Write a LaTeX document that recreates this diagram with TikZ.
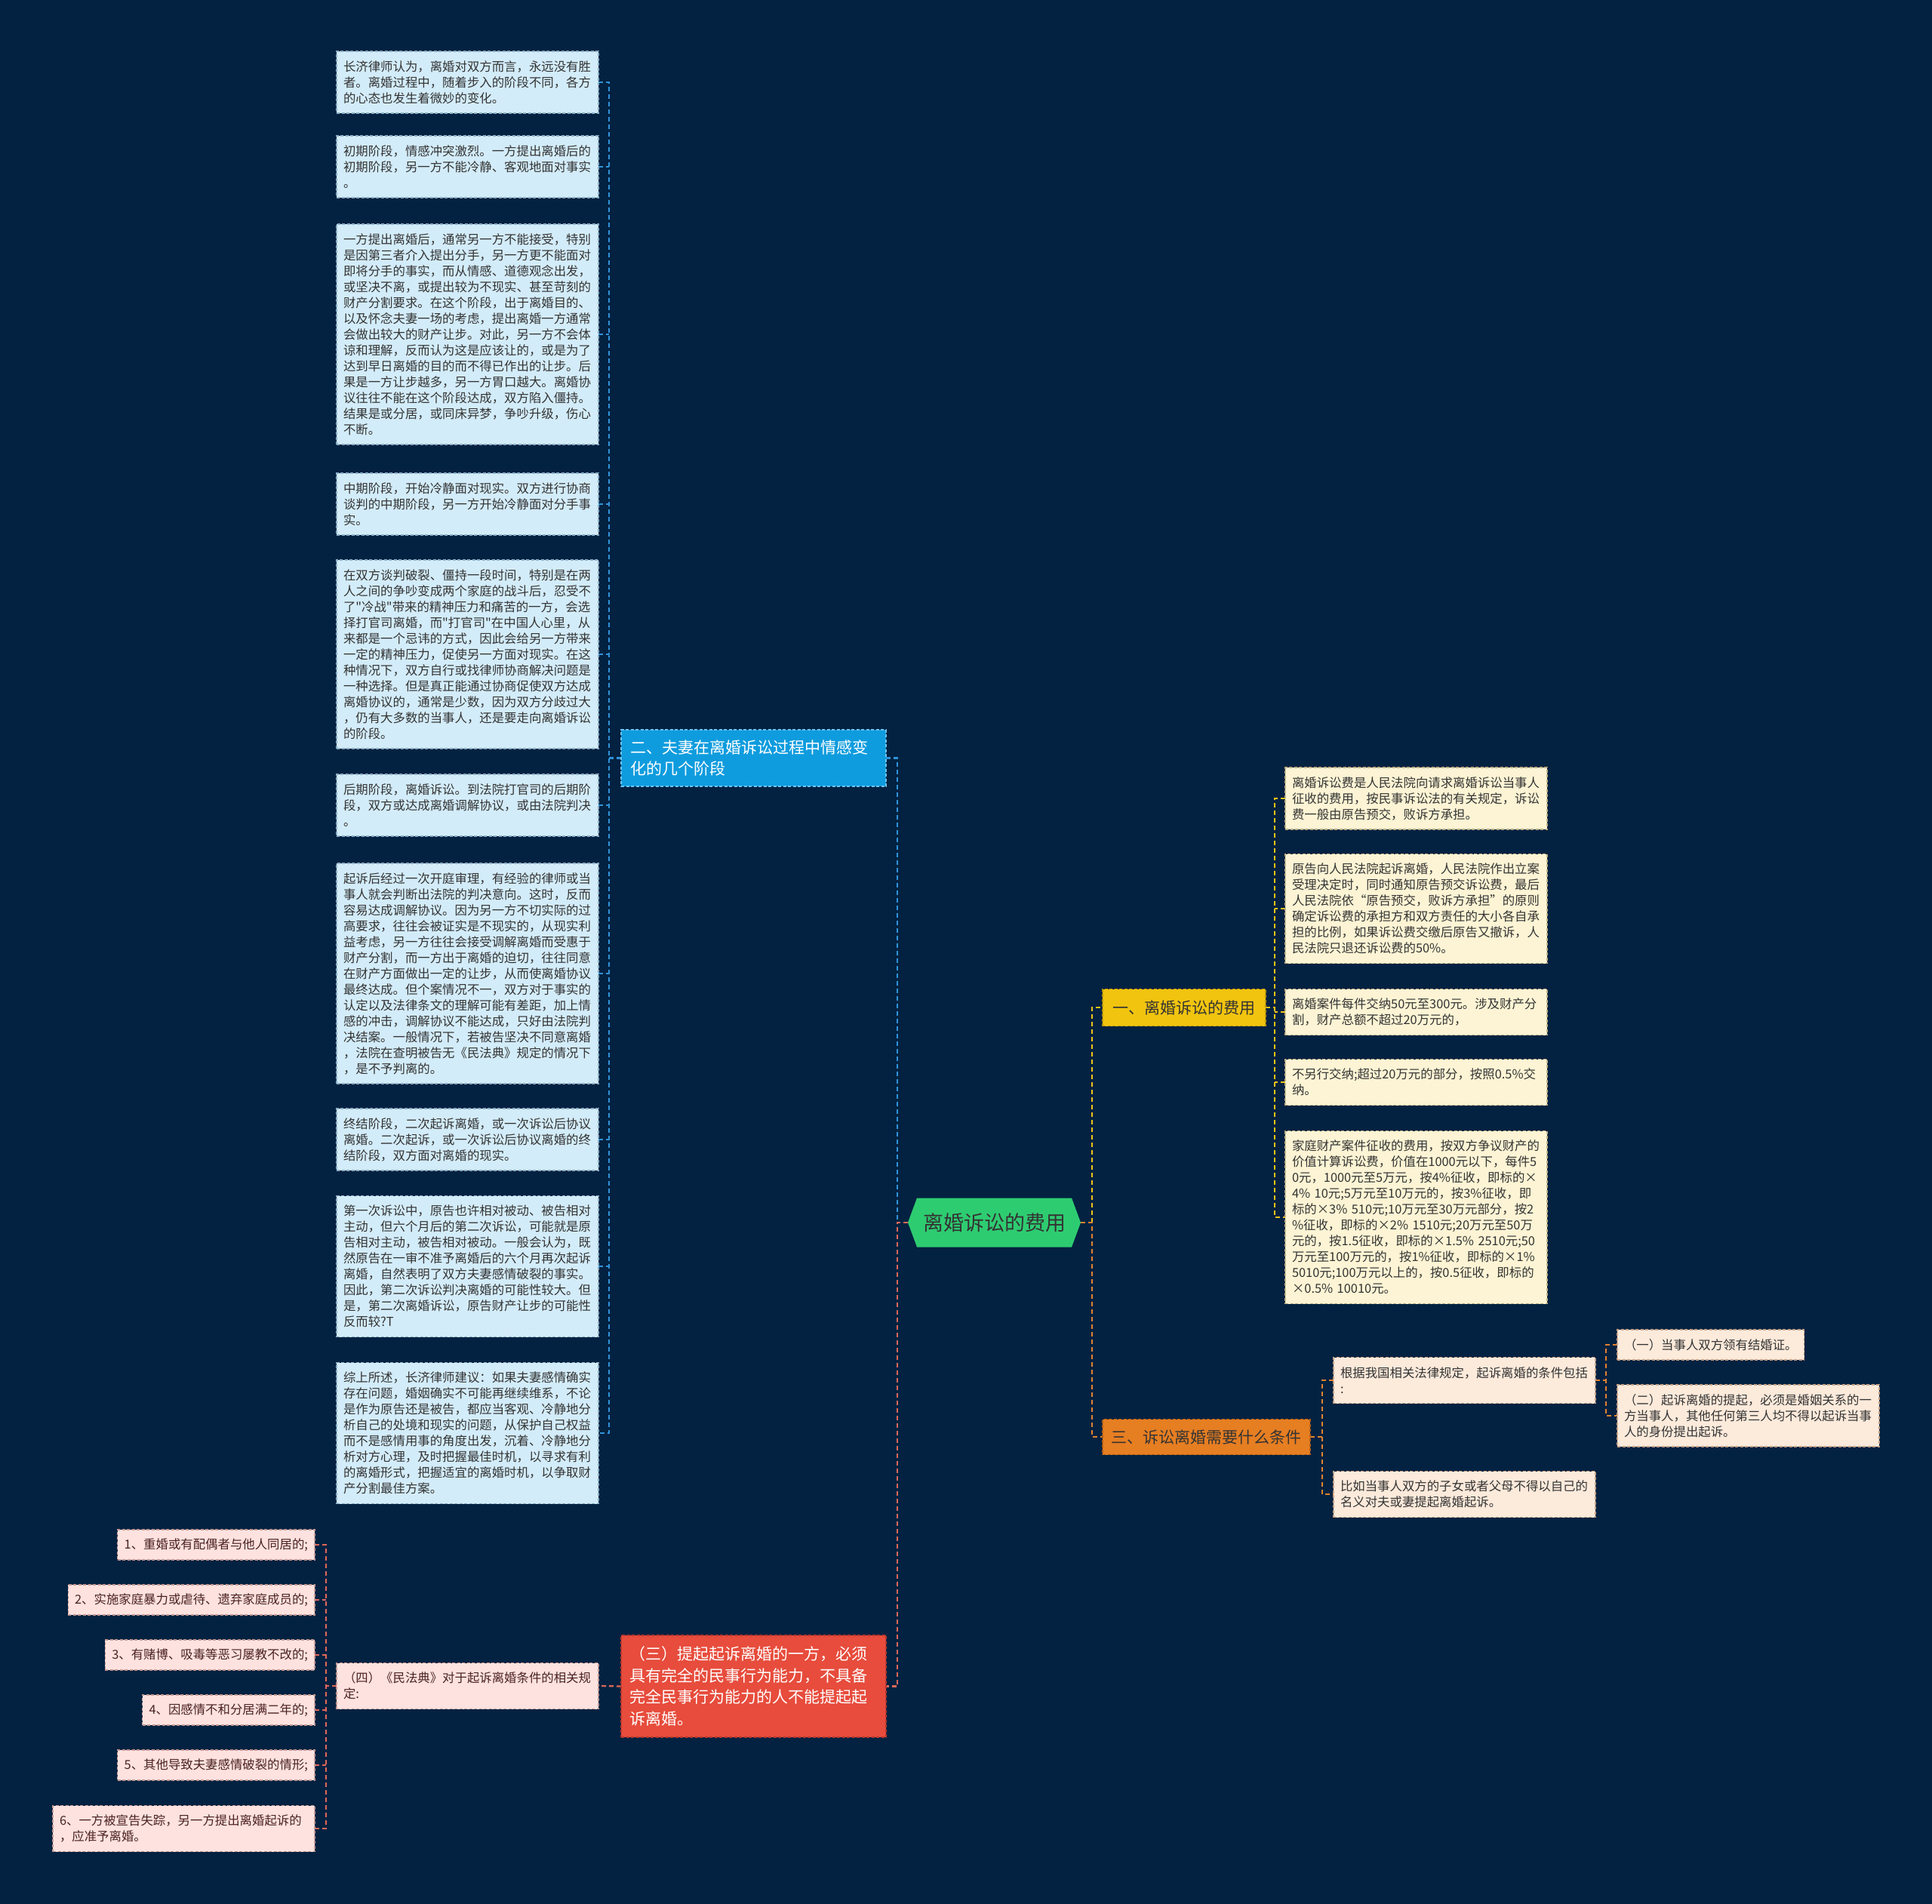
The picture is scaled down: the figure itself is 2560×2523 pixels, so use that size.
\documentclass[tikz,border=0pt]{standalone}
\usepackage{fontspec}
\setmainfont{Noto Sans CJK SC}[Ligatures=TeXOff]
\pgfdeclarelayer{page}
\pgfdeclarelayer{bg}
\pgfsetlayers{page,bg,main}
\definecolor{bgc}{HTML}{032241}
\definecolor{bleafc}{HTML}{D3ECF9}
\definecolor{bleafd}{HTML}{8AAFC6}
\definecolor{bbrc}{HTML}{0F9CDE}
\definecolor{bbrd}{HTML}{6CC3EE}
\definecolor{bconc}{HTML}{2F93DA}
\definecolor{yleafc}{HTML}{FCF4D4}
\definecolor{yleafd}{HTML}{BDAF84}
\definecolor{ybrc}{HTML}{F1C40F}
\definecolor{ybrd}{HTML}{B8940A}
\definecolor{yconc}{HTML}{EEC515}
\definecolor{oleafc}{HTML}{FCEADB}
\definecolor{oleafd}{HTML}{C4A287}
\definecolor{obrc}{HTML}{E67E22}
\definecolor{obrd}{HTML}{B35E14}
\definecolor{oconc}{HTML}{E0822E}
\definecolor{pleafc}{HTML}{FDE2DF}
\definecolor{pleafd}{HTML}{C29793}
\definecolor{rbrc}{HTML}{E74C3C}
\definecolor{rbrd}{HTML}{B5362A}
\definecolor{pconc}{HTML}{E0685A}
\definecolor{rootc}{HTML}{2ECC71}
\definecolor{leaftxt}{HTML}{333333}
\definecolor{ptxt}{HTML}{4A2222}
\begin{document}
\begin{tikzpicture}[x=1pt,y=-1pt,
  every node/.style={outer sep=0pt},
  lf/.style={anchor=west, text width=329pt, align=left, inner xsep=9pt, inner ysep=0pt,
    font=\fontsize{16.4pt}{21pt}\selectfont, line width=1.2pt, dash pattern=on 4pt off 2.5pt},
  bleaf/.style={lf, fill=bleafc, draw=bleafd, text=leaftxt},
  yleaf/.style={lf, fill=yleafc, draw=yleafd, text=leaftxt},
  oleaf/.style={lf, fill=oleafc, draw=oleafd, text=leaftxt},
  pleaf/.style={lf, fill=pleafc, draw=pleafd, text=ptxt},
  sleaf/.style={align=left, inner xsep=9pt, inner ysep=0pt, minimum height=40pt,
    font=\fontsize{16.4pt}{21pt}\selectfont, line width=1.2pt, dash pattern=on 4pt off 2.5pt},
  brtxt/.style={font=\fontsize{21pt}{28.5pt}\selectfont, inner ysep=0pt, line width=1.2pt, dash pattern=on 4pt off 2.5pt},
  con/.style={line width=2.2pt, dash pattern=on 6pt off 4pt},
  bcon/.style={con, draw=bconc},
  ycon/.style={con, draw=yconc},
  ocon/.style={con, draw=oconc},
  pcon/.style={con, draw=pconc}
]
\begin{pgfonlayer}{page}
\fill[bgc] (0,0) rectangle (2560,2523);
\end{pgfonlayer}
\useasboundingbox (0,0) rectangle (2560,2523);

% root
\node[font=\fontsize{27pt}{32pt}\selectfont, text=leaftxt, minimum width=229pt, minimum height=65pt, inner sep=0pt] (root) at (1317.5,1620) {离婚诉讼的费用};
\begin{pgfonlayer}{bg}
\fill[rootc] (root.west) -- ([xshift=12pt]root.north west) -- ([xshift=-12pt]root.north east) -- (root.east) -- ([xshift=-12pt]root.south east) -- ([xshift=12pt]root.south west) -- cycle;
\end{pgfonlayer}

% branches
\node[brtxt, anchor=west, text width=327pt, align=left, inner xsep=12pt, minimum height=75pt, fill=bbrc, draw=bbrd, text=white] (bb) at (823,1004.5) {二、夫妻在离婚诉讼过程中情感变\\化的几个阶段};
\node[brtxt, anchor=west, text width=329pt, align=left, inner xsep=11pt, minimum height=135pt, fill=rbrc, draw=rbrd, text=white] (rd) at (823,2234.5) {（三）提起起诉离婚的一方，必须\\具有完全的民事行为能力，不具备\\完全民事行为能力的人不能提起起\\诉离婚。};
\node[brtxt, anchor=west, minimum width=216pt, minimum height=49pt, fill=ybrc, draw=ybrd, text=leaftxt] (yb) at (1461,1335) {一、离婚诉讼的费用};
\node[brtxt, anchor=west, minimum width=275pt, minimum height=47pt, fill=obrc, draw=obrd, text=leaftxt] (ob) at (1461,1904) {三、诉讼离婚需要什么条件};

% blue leaves
\node[bleaf, minimum height=82pt] (b1) at (446,109) {长济律师认为，离婚对双方而言，永远没有胜\\者。离婚过程中，随着步入的阶段不同，各方\\的心态也发生着微妙的变化。};
\node[bleaf, minimum height=82pt] (b2) at (446,221) {初期阶段，情感冲突激烈。一方提出离婚后的\\初期阶段，另一方不能冷静、客观地面对事实\\。};
\node[bleaf, minimum height=292pt] (b3) at (446,443) {一方提出离婚后，通常另一方不能接受，特别\\是因第三者介入提出分手，另一方更不能面对\\即将分手的事实，而从情感、道德观念出发，\\或坚决不离，或提出较为不现实、甚至苛刻的\\财产分割要求。在这个阶段，出于离婚目的、\\以及怀念夫妻一场的考虑，提出离婚一方通常\\会做出较大的财产让步。对此，另一方不会体\\谅和理解，反而认为这是应该让的，或是为了\\达到早日离婚的目的而不得已作出的让步。后\\果是一方让步越多，另一方胃口越大。离婚协\\议往往不能在这个阶段达成，双方陷入僵持。\\结果是或分居，或同床异梦，争吵升级，伤心\\不断。};
\node[bleaf, minimum height=82pt] (b4) at (446,668) {中期阶段，开始冷静面对现实。双方进行协商\\谈判的中期阶段，另一方开始冷静面对分手事\\实。};
\node[bleaf, minimum height=250pt] (b5) at (446,867) {在双方谈判破裂、僵持一段时间，特别是在两\\人之间的争吵变成两个家庭的战斗后，忍受不\\了"冷战"带来的精神压力和痛苦的一方，会选\\择打官司离婚，而"打官司"在中国人心里，从\\来都是一个忌讳的方式，因此会给另一方带来\\一定的精神压力，促使另一方面对现实。在这\\种情况下，双方自行或找律师协商解决问题是\\一种选择。但是真正能通过协商促使双方达成\\离婚协议的，通常是少数，因为双方分歧过大\\，仍有大多数的当事人，还是要走向离婚诉讼\\的阶段。};
\node[bleaf, minimum height=82pt] (b6) at (446,1067) {后期阶段，离婚诉讼。到法院打官司的后期阶\\段，双方或达成离婚调解协议，或由法院判决\\。};
\node[bleaf, minimum height=292pt] (b7) at (446,1290) {起诉后经过一次开庭审理，有经验的律师或当\\事人就会判断出法院的判决意向。这时，反而\\容易达成调解协议。因为另一方不切实际的过\\高要求，往往会被证实是不现实的，从现实利\\益考虑，另一方往往会接受调解离婚而受惠于\\财产分割，而一方出于离婚的迫切，往往同意\\在财产方面做出一定的让步，从而使离婚协议\\最终达成。但个案情况不一，双方对于事实的\\认定以及法律条文的理解可能有差距，加上情\\感的冲击，调解协议不能达成，只好由法院判\\决结案。一般情况下，若被告坚决不同意离婚\\，法院在查明被告无《民法典》规定的情况下\\，是不予判离的。};
\node[bleaf, minimum height=82pt] (b8) at (446,1510) {终结阶段，二次起诉离婚，或一次诉讼后协议\\离婚。二次起诉，或一次诉讼后协议离婚的终\\结阶段，双方面对离婚的现实。};
\node[bleaf, minimum height=187pt] (b9) at (446,1678) {第一次诉讼中，原告也许相对被动、被告相对\\主动，但六个月后的第二次诉讼，可能就是原\\告相对主动，被告相对被动。一般会认为，既\\然原告在一审不准予离婚后的六个月再次起诉\\离婚，自然表明了双方夫妻感情破裂的事实。\\因此，第二次诉讼判决离婚的可能性较大。但\\是，第二次离婚诉讼，原告财产让步的可能性\\反而较?T};
\node[bleaf, minimum height=187pt] (b10) at (446,1899) {综上所述，长济律师建议：如果夫妻感情确实\\存在问题，婚姻确实不可能再继续维系，不论\\是作为原告还是被告，都应当客观、冷静地分\\析自己的处境和现实的问题，从保护自己权益\\而不是感情用事的角度出发，沉着、冷静地分\\析对方心理，及时把握最佳时机，以寻求有利\\的离婚形式，把握适宜的离婚时机，以争取财\\产分割最佳方案。};

% yellow leaves
\node[yleaf, minimum height=82pt] (y1) at (1703,1058) {离婚诉讼费是人民法院向请求离婚诉讼当事人\\征收的费用，按民事诉讼法的有关规定，诉讼\\费一般由原告预交，败诉方承担。};
\node[yleaf, minimum height=145pt] (y2) at (1703,1204) {原告向人民法院起诉离婚，人民法院作出立案\\受理决定时，同时通知原告预交诉讼费，最后\\人民法院依“原告预交，败诉方承担”的原则\\确定诉讼费的承担方和双方责任的大小各自承\\担的比例，如果诉讼费交缴后原告又撤诉，人\\民法院只退还诉讼费的50\%。};
\node[yleaf, minimum height=61pt] (y3) at (1703,1341) {离婚案件每件交纳50元至300元。涉及财产分\\割，财产总额不超过20万元的，};
\node[yleaf, minimum height=61pt] (y4) at (1703,1434) {不另行交纳;超过20万元的部分，按照0.5\%交\\纳。};
\node[yleaf, minimum height=229pt] (y5) at (1703,1613) {家庭财产案件征收的费用，按双方争议财产的\\价值计算诉讼费，价值在1000元以下，每件5\\0元，1000元至5万元，按4\%征收，即标的×\\4\% 10元;5万元至10万元的，按3\%征收，即\\标的×3\% 510元;10万元至30万元部分，按2\\\%征收，即标的×2\% 1510元;20万元至50万\\元的，按1.5征收，即标的×1.5\% 2510元;50\\万元至100万元的，按1\%征收，即标的×1\%\\5010元;100万元以上的，按0.5征收，即标的\\×0.5\% 10010元。};

% orange leaves
\node[oleaf, minimum height=61pt] (o1) at (1767,1829) {根据我国相关法律规定，起诉离婚的条件包括\\:};
\node[oleaf, minimum height=61pt] (o2) at (1767,1980) {比如当事人双方的子女或者父母不得以自己的\\名义对夫或妻提起离婚起诉。};
\node[sleaf, anchor=west, fill=oleafc, draw=oleafd, text=leaftxt] (o1a) at (2143,1782) {（一）当事人双方领有结婚证。};
\node[oleaf, minimum height=82pt] (o1b) at (2143,1876) {（二）起诉离婚的提起，必须是婚姻关系的一\\方当事人，其他任何第三人均不得以起诉当事\\人的身份提出起诉。};

% pink leaves
\node[pleaf, minimum height=61pt] (p0) at (446,2234) {（四）《民法典》对于起诉离婚条件的相关规\\定:};
\node[sleaf, anchor=east, fill=pleafc, draw=pleafd, text=ptxt] (p1) at (417,2047) {1、重婚或有配偶者与他人同居的;};
\node[sleaf, anchor=east, fill=pleafc, draw=pleafd, text=ptxt] (p2) at (417,2120) {2、实施家庭暴力或虐待、遗弃家庭成员的;};
\node[sleaf, anchor=east, fill=pleafc, draw=pleafd, text=ptxt] (p3) at (417,2193) {3、有赌博、吸毒等恶习屡教不改的;};
\node[sleaf, anchor=east, fill=pleafc, draw=pleafd, text=ptxt] (p4) at (417,2266) {4、因感情不和分居满二年的;};
\node[sleaf, anchor=east, fill=pleafc, draw=pleafd, text=ptxt] (p5) at (417,2339) {5、其他导致夫妻感情破裂的情形;};
\node[pleaf, anchor=east, minimum height=61pt] (p6) at (417,2423) {6、一方被宣告失踪，另一方提出离婚起诉的\\，应准予离婚。};

% connectors
\coordinate (bx) at (807,0);
\coordinate (lx) at (1189,0);
\coordinate (rx) at (1447,0);
\coordinate (yx) at (1689,0);
\coordinate (ox) at (1752,0);
\coordinate (oy) at (2128,0);
\coordinate (px) at (432,0);
\begin{pgfonlayer}{bg}
% root level
\draw[bcon, line width=2.6pt] (bb.east) -- (bb.east -| lx) -- (root.west -| lx);
\draw[pcon, line width=2.6pt] (root.west) -- (root.west -| lx) -- (rd.east -| lx) -- (rd.east);
\draw[ycon, line width=2.6pt] (root.east -| rx) -- (yb.west -| rx) -- (yb.west);
\draw[ocon, line width=2.6pt] (root.east) -- (root.east -| rx) -- (ob.west -| rx) -- (ob.west);
% blue
\draw[bcon] (bb.west) -- (bb.west -| bx);
\draw[bcon] (b1.east) -- (b1.east -| bx) -- (b10.east -| bx) -- (b10.east);
\foreach \n in {b2,b3,b4,b5,b6,b7,b8,b9} {\draw[bcon] (\n.east) -- (\n.east -| bx);}
% yellow
\draw[ycon] (yb.east) -- (yb.east -| yx);
\draw[ycon] (y1.west) -- (y1.west -| yx) -- (y5.west -| yx) -- (y5.west);
\foreach \n in {y2,y3,y4} {\draw[ycon] (\n.west) -- (\n.west -| yx);}
% orange
\draw[ocon] (ob.east) -- (ob.east -| ox);
\draw[ocon] (o1.west) -- (o1.west -| ox) -- (o2.west -| ox) -- (o2.west);
\draw[ocon] (o1.east) -- (o1.east -| oy);
\draw[ocon] (o1a.west) -- (o1a.west -| oy) -- (o1b.west -| oy) -- (o1b.west);
% pink
\draw[pcon] (rd.west) -- (p0.east);
\draw[pcon] (p0.west) -- (p0.west -| px);
\draw[pcon] (p1.east) -- (p1.east -| px) -- (p6.east -| px) -- (p6.east);
\foreach \n in {p2,p3,p4,p5} {\draw[pcon] (\n.east) -- (\n.east -| px);}
\end{pgfonlayer}
\end{tikzpicture}
\end{document}
